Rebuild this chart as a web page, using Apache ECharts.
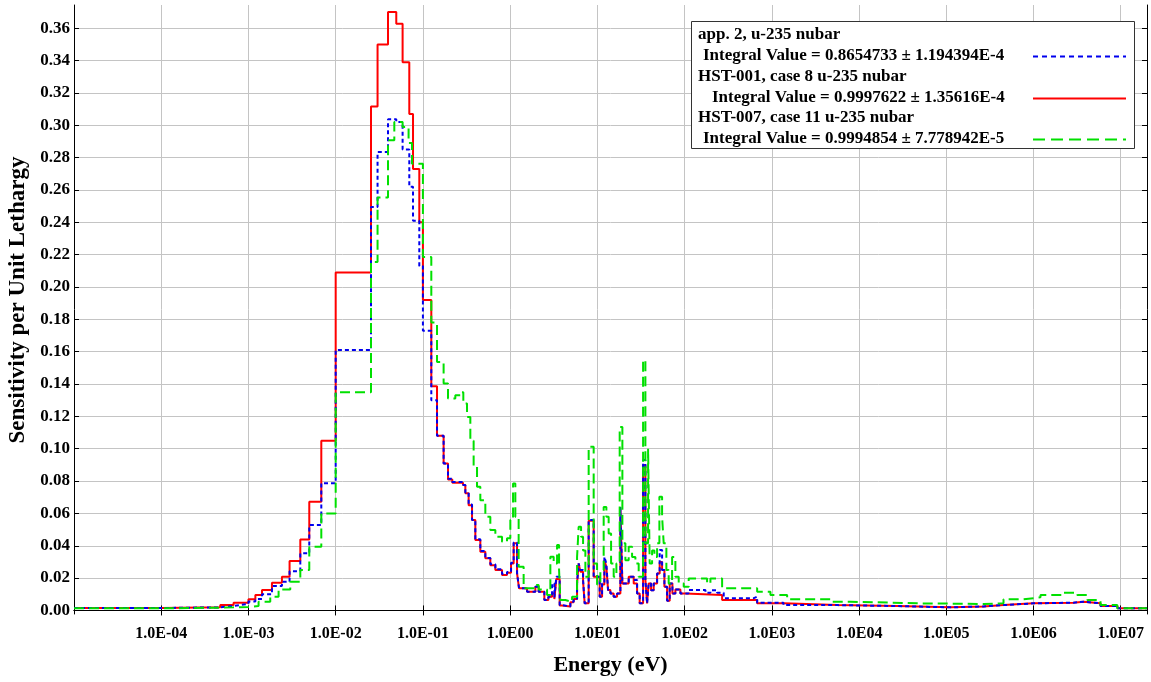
<!DOCTYPE html>
<html><head><meta charset="utf-8">
<script src="https://cdn.jsdelivr.net/npm/echarts@6/dist/echarts.min.js"></script>
<style>html,body{margin:0;padding:0;background:#fff}#c{width:1151px;height:682px}</style>
</head><body><div id="c"></div><script>
// ---- data (energy in eV, sensitivity per unit lethargy; each value holds from its energy to the next) ----
const redE = [1e-5,1e-4,4.75e-4,6.75e-4,1.0e-3,1.2e-3,1.43e-3,1.86e-3,2.42e-3,2.96e-3,3.93e-3,4.98e-3,6.84e-3,1.0e-2,2.54e-2,3.02e-2,3.98e-2,4.95e-2,5.85e-2,6.98e-2,7.70e-2,9.09e-2,0.1,0.1248,0.1451,0.1727,0.194,0.2174,0.2884,0.3064,0.3343,0.3657,0.399,0.4552,0.5195,0.5928,0.6767,0.8074,0.921,1.024,1.097,1.2,1.265,1.562,1.945,2.122,2.467,2.743,3.024,3.213,3.387,3.696,3.938,4.902,5.349,5.85,6.103,6.383,6.856,7.152,7.947,9.07,10.63,11.32,12.03,12.68,13.26,14.1,15.38,16.82,18.36,19.35,22.86,26.09,28.53,30.56,33.43,35.52,37.15,38.75,41.28,44.21,48.37,51.8,55.2,58.7,63.0,67.5,72.5,78.4,89.5,102.1,269.2,678.7,1359,5609,27350,111700,267100,452900,1.0e6,2.875e6,3.745e6,5.865e6,9.2e6,2e7];
const redV = [0.0015,0.0019,0.0033,0.0048,0.0069,0.0095,0.0126,0.0171,0.0208,0.0305,0.0439,0.0672,0.105,0.209,0.3117,0.350,0.370,0.3628,0.339,0.307,0.273,0.240,0.192,0.1387,0.108,0.0909,0.081,0.079,0.0775,0.0725,0.065,0.0559,0.0435,0.0363,0.0322,0.028,0.025,0.0219,0.0233,0.0291,0.0415,0.0229,0.0137,0.0116,0.0146,0.0116,0.0065,0.0085,0.0105,0.007,0.0195,0.003,0.0025,0.005,0.007,0.0167,0.029,0.024,0.018,0.0044,0.0555,0.0208,0.0085,0.016,0.031,0.027,0.0126,0.0105,0.0085,0.0105,0.063,0.0167,0.0208,0.0167,0.0105,0.0044,0.090,0.019,0.0044,0.0167,0.0125,0.0167,0.0229,0.030,0.025,0.0146,0.006,0.0167,0.0105,0.013,0.0105,0.0095,0.0064,0.0044,0.0033,0.0027,0.0019,0.0025,0.0033,0.0044,0.0048,0.0054,0.0044,0.0027,0.0013,0.0013];

const blueE = [1e-5,1e-4,4.75e-4,6.75e-4,1.0e-3,1.2e-3,1.43e-3,1.86e-3,2.42e-3,2.96e-3,3.93e-3,4.98e-3,6.84e-3,1.0e-2,2.54e-2,3.02e-2,3.98e-2,4.95e-2,5.85e-2,6.98e-2,7.70e-2,9.09e-2,0.1,0.1248,0.1451,0.1727,0.194,0.2174,0.2884,0.3064,0.3343,0.3657,0.399,0.4552,0.5195,0.5928,0.6767,0.8074,0.921,1.024,1.097,1.2,1.265,1.562,1.945,2.122,2.467,2.743,3.024,3.213,3.387,3.696,3.938,4.902,5.349,5.85,6.103,6.383,6.856,7.152,7.947,9.07,10.63,11.32,12.03,12.68,13.26,14.1,15.38,16.82,18.36,19.35,22.86,26.09,28.53,30.56,33.43,35.52,37.15,38.75,41.28,44.21,48.37,51.8,55.2,58.7,63.0,67.5,72.5,78.4,89.5,102.1,110.6,173.2,197.7,236,280.8,615,678.7,1359,5609,27350,111700,267100,452900,1.0e6,2.875e6,3.745e6,5.865e6,9.2e6,2e7];
const blueV = [0.0015,0.0019,0.0028,0.004,0.0055,0.007,0.01,0.0151,0.0177,0.0243,0.0353,0.0528,0.0787,0.161,0.2495,0.2835,0.3037,0.302,0.285,0.262,0.241,0.213,0.173,0.130,0.108,0.0909,0.0815,0.0795,0.0775,0.073,0.0655,0.056,0.044,0.0368,0.0325,0.0285,0.0255,0.0225,0.0238,0.0295,0.042,0.0232,0.0137,0.0116,0.0146,0.0116,0.0065,0.0085,0.0167,0.008,0.0208,0.0033,0.0025,0.0054,0.007,0.0167,0.0291,0.025,0.0188,0.0044,0.0559,0.0208,0.0085,0.0167,0.0332,0.029,0.0126,0.0105,0.0085,0.0105,0.064,0.0167,0.0208,0.0188,0.0105,0.0044,0.093,0.019,0.0044,0.0167,0.0125,0.0167,0.0229,0.0373,0.025,0.0146,0.006,0.0167,0.0105,0.013,0.0105,0.0105,0.0126,0.011,0.0125,0.011,0.0075,0.0085,0.0048,0.0033,0.0027,0.0019,0.0025,0.0033,0.0044,0.0048,0.0054,0.0044,0.0027,0.0013,0.0013];

const greenE = [1e-5,1e-4,4.75e-4,6.75e-4,1.0e-3,1.306e-3,1.778e-3,2.215e-3,3.015e-3,3.93e-3,4.98e-3,6.84e-3,1.0e-2,2.54e-2,3.02e-2,3.98e-2,4.70e-2,5.85e-2,6.85e-2,7.50e-2,0.1,0.1248,0.1451,0.1727,0.194,0.2353,0.2685,0.2906,0.3204,0.3497,0.3815,0.4173,0.4552,0.5195,0.5928,0.6767,0.8074,0.921,1.005,1.08,1.147,1.252,1.428,1.945,2.122,2.65,2.891,3.155,3.45,3.638,3.765,4.295,5.128,5.85,6.103,6.503,6.856,7.285,7.947,9.07,9.92,10.82,11.81,12.68,13.47,14.36,15.38,16.52,18.02,19.35,20.95,22.86,25.0,27.28,29.76,33.43,35.52,38.14,39.79,42.39,45.05,48.37,51.4,55.2,57.6,61.8,65.7,71.9,78.4,85.6,97.7,111.4,181.1,197.7,269.2,678.7,964,1498,4700,7970,46380,268000,452900,768000,1.203e6,2.208e6,3.17e6,4.13e6,5.865e6,9.12e6,2e7];
const greenV = [0.0013,0.0017,0.0019,0.0022,0.0027,0.0054,0.0085,0.013,0.0177,0.025,0.0394,0.06,0.135,0.2155,0.2553,0.2907,0.302,0.299,0.289,0.2763,0.2186,0.178,0.1537,0.1403,0.131,0.133,0.135,0.128,0.1197,0.105,0.0888,0.0765,0.0682,0.058,0.0497,0.0456,0.0425,0.0446,0.0559,0.0785,0.058,0.027,0.0137,0.0157,0.013,0.0095,0.0332,0.029,0.0404,0.025,0.0064,0.0054,0.0085,0.033,0.0517,0.0456,0.037,0.0208,0.1012,0.029,0.016,0.025,0.064,0.0579,0.0476,0.029,0.0208,0.029,0.1135,0.0415,0.031,0.0394,0.033,0.029,0.0208,0.1548,0.0415,0.10,0.029,0.037,0.033,0.0415,0.0703,0.058,0.0415,0.025,0.0167,0.033,0.0208,0.0167,0.0146,0.0198,0.0167,0.0198,0.0137,0.0116,0.0095,0.0069,0.0054,0.0044,0.004,0.0044,0.0069,0.0081,0.0095,0.0109,0.0095,0.0064,0.0033,0.0013,0.0013];

const xTickValues = [1e-4,1e-3,1e-2,1e-1,1,10,100,1e3,1e4,1e5,1e6,1e7];
const xTickLabels = ['1.0E-04','1.0E-03','1.0E-02','1.0E-01','1.0E00','1.0E01','1.0E02','1.0E03','1.0E04','1.0E05','1.0E06','1.0E07'];
const yTickValues = [0,0.02,0.04,0.06,0.08,0.10,0.12,0.14,0.16,0.18,0.20,0.22,0.24,0.26,0.28,0.30,0.32,0.34,0.36];
const yTickLabels = ['0.00','0.02','0.04','0.06','0.08','0.10','0.12','0.14','0.16','0.18','0.20','0.22','0.24','0.26','0.28','0.30','0.32','0.34','0.36'];

const xTitle = 'Energy (eV)';
const yTitle = 'Sensitivity per Unit Lethargy';
const seriesNames = ['app. 2, u-235 nubar','HST-001, case 8 u-235 nubar','HST-007, case 11 u-235 nubar'];
const integralLabels = ['Integral Value = 0.8654733 \u00b1 1.194394E-4','Integral Value = 0.9997622 \u00b1 1.35616E-4','Integral Value = 0.9994854 \u00b1 7.778942E-5'];

const FONT = '"Liberation Serif","Times New Roman",serif';
const RED = '#ff0000', BLUE = '#0000ee', GREEN = '#00e000';

function pair(E, V){ return E.map((e,i)=>[e, V[i]]); }
function xLabel(v){
  const i = xTickValues.findIndex(t => Math.abs(Math.log10(t) - Math.log10(v)) < 1e-6);
  return i >= 0 ? xTickLabels[i] : '';
}
function yLabel(v){
  const i = yTickValues.findIndex(t => Math.abs(t - v) < 1e-6);
  return i >= 0 ? yTickLabels[i] : '';
}

const chart = echarts.init(document.getElementById('c'), null, {renderer:'canvas'});
const axisLine = {show:true, lineStyle:{color:'#000', width:1}};
const xBase = {type:'log', logBase:10, min:1e-5, max:2e7};
const yBase = {type:'value', min:-0.0022, max:0.3744};

const legendX = 691, legendY = 21, legendW = 443, legendH = 127;
const rowY = [35, 55.5, 76.5, 97.5, 118, 138.5];
const textX = [698, 703, 698, 712, 698, 703];
const lineRows = [1, 3, 5];
const colors = [BLUE, RED, GREEN];
const dashes = [[5,4], null, [12,6]];
const graphics = [
  {type:'text', z:50, x:18, y:300, rotation:Math.PI/2,
    style:{text:yTitle, font:'bold 23px '+FONT, fill:'#000', align:'center', verticalAlign:'middle'}},
  {type:'rect', z:100, shape:{x:legendX+0.5, y:legendY+0.5, width:legendW, height:legendH}, style:{fill:'#fff', stroke:'#333', lineWidth:1}}
];
for (let i = 0; i < 3; i++) {
  graphics.push({type:'text', z:101, x:textX[2*i], y:rowY[2*i], style:{text:seriesNames[i], font:'bold 17px '+FONT, fill:'#000', verticalAlign:'middle'}});
  graphics.push({type:'text', z:101, x:textX[2*i+1], y:rowY[2*i+1], style:{text:integralLabels[i], font:'bold 17px '+FONT, fill:'#000', verticalAlign:'middle'}});
  const ly = rowY[lineRows[i]] + 1;
  graphics.push({type:'line', z:101, shape:{x1:1033, y1:ly, x2:1126, y2:ly}, style:{stroke:colors[i], lineWidth:2, lineDash:dashes[i] || undefined}});
}

chart.setOption({
  animation:false,
  backgroundColor:'#fff',
  grid:{left:74, right:4, top:5, bottom:68, containLabel:false, outerBoundsMode:'none'},
  xAxis:[
    Object.assign({}, xBase, {position:'bottom', name:xTitle, nameLocation:'middle', nameGap:40,
      nameTextStyle:{fontFamily:FONT, fontWeight:'bold', fontSize:22, color:'#000'},
      axisLine:axisLine,
      axisTick:{show:true, inside:true, length:5, customValues:xTickValues, lineStyle:{color:'#000'}},
      axisLabel:{show:true, customValues:xTickValues, formatter:xLabel, fontFamily:FONT, fontWeight:'bold', fontSize:16, color:'#000', margin:12},
      splitLine:{show:true, lineStyle:{color:'#c4c4c4', width:1}},
      minorTick:{show:false}, minorSplitLine:{show:false}}),
    Object.assign({}, xBase, {position:'top', axisLine:axisLine,
      axisTick:{show:true, inside:true, length:5, customValues:xTickValues, lineStyle:{color:'#000'}},
      axisLabel:{show:false}, splitLine:{show:false}})
  ],
  yAxis:[
    Object.assign({}, yBase, {position:'left',
      axisLine:axisLine,
      axisTick:{show:true, inside:true, length:5, customValues:yTickValues, lineStyle:{color:'#000'}},
      axisLabel:{show:true, customValues:yTickValues, formatter:yLabel, fontFamily:FONT, fontWeight:'bold', fontSize:17, color:'#000', margin:4},
      splitLine:{show:true, lineStyle:{color:'#c4c4c4', width:1}}}),
    Object.assign({}, yBase, {position:'right', axisLine:axisLine,
      axisTick:{show:true, inside:true, length:5, customValues:yTickValues, lineStyle:{color:'#000'}},
      axisLabel:{show:false}, splitLine:{show:false}})
  ],
  series:[
    {name:seriesNames[1], type:'line', step:'end', symbol:'none', data:pair(redE, redV), xAxisIndex:0, yAxisIndex:0, z:3,
      lineStyle:{color:RED, width:2}},
    {name:seriesNames[0], type:'line', step:'end', symbol:'none', data:pair(blueE, blueV), xAxisIndex:0, yAxisIndex:0, z:4,
      lineStyle:{color:BLUE, width:2, type:[4,3]}},
    {name:seriesNames[2], type:'line', step:'end', symbol:'none', data:pair(greenE, greenV), xAxisIndex:0, yAxisIndex:0, z:5,
      lineStyle:{color:GREEN, width:2, type:[10,5]}}
  ],
  graphic:graphics
});
</script></body></html>
